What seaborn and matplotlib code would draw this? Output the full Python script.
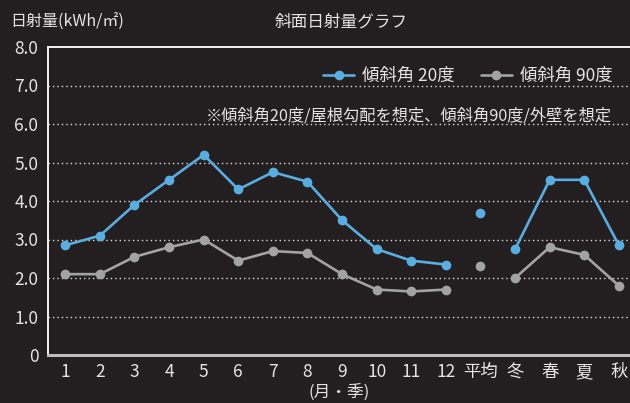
import numpy as np
import pandas as pd
import seaborn as sns
import matplotlib.pyplot as plt
from matplotlib.ticker import FixedLocator

# chart data
categories = ["1", "2", "3", "4", "5", "6", "7", "8", "9", "10", "11", "12",
              "平均", "冬", "春", "夏", "秋"]
segments = [1] * 12 + [2] + [3] * 4
tilt20 = [2.85, 3.1, 3.9, 4.55, 5.2, 4.3, 4.75, 4.5, 3.5, 2.75, 2.45, 2.35,
          3.7, 2.75, 4.55, 4.55, 2.85]
tilt90 = [2.1, 2.1, 2.55, 2.8, 3.0, 2.45, 2.7, 2.65, 2.1, 1.7, 1.65, 1.7,
          2.3, 2.0, 2.8, 2.6, 1.8]
series_names = ["傾斜角 20度", "傾斜角 90度"]
y_ticks = [0, 1, 2, 3, 4, 5, 6, 7, 8]
y_ticklabels = ["0", "1.0", "2.0", "3.0", "4.0", "5.0", "6.0", "7.0", "8.0"]

BG = "#231f20"
TXT = "#e4e4e4"
BLUE = "#5aade0"
GRAY = "#a3a3a4"

pos = np.arange(len(categories))
df = pd.concat([
    pd.DataFrame({"pos": pos, "value": tilt20, "series": series_names[0], "seg": segments}),
    pd.DataFrame({"pos": pos, "value": tilt90, "series": series_names[1], "seg": segments}),
])

sns.set_style("dark")
plt.rcParams["font.family"] = ["Noto Sans CJK JP", "DejaVu Sans"]

fig = plt.figure(figsize=(6.3, 4.03), dpi=100, facecolor=BG)
ax = fig.add_axes([48 / 630, 48 / 403, 583 / 630, 308 / 403])
ax.set_facecolor(BG)

sns.lineplot(data=df, x="pos", y="value", hue="series", units="seg",
             estimator=None, palette={series_names[0]: BLUE, series_names[1]: GRAY},
             hue_order=series_names, marker="o", markersize=7,
             markeredgewidth=0, linewidth=1.9, ax=ax, sort=False)

ax.set_xlim(-0.5, 16.35)
ax.set_ylim(0, 8)
ax.xaxis.set_major_locator(FixedLocator(pos))
ax.set_xticklabels(categories)
ax.set_yticks(y_ticks)
ax.set_yticklabels(y_ticklabels)
ax.tick_params(axis="both", colors=TXT, labelsize=12.5, length=0)
ax.tick_params(axis="x", pad=6)
ax.tick_params(axis="y", pad=7)
ax.set_xlabel("(月・季)", color=TXT, fontsize=12, labelpad=2)
ax.set_ylabel("")

ax.grid(False)
for yv in y_ticks[1:-1]:
    ax.axhline(yv, color="#dcdcdc", linestyle=(0, (1, 2.2)), linewidth=1.0, zorder=0)

ax.spines["left"].set_color("#f2f2f2")
ax.spines["left"].set_linewidth(1.4)
ax.spines["top"].set_color("#f2f2f2")
ax.spines["top"].set_linewidth(1.4)
ax.spines["bottom"].set_color("#bdbdbd")
ax.spines["bottom"].set_linewidth(2.2)
ax.spines["right"].set_visible(False)

ax.legend(loc="upper right", bbox_to_anchor=(0.995, 0.985), ncol=2,
          frameon=False, fontsize=12.5, labelcolor=TXT,
          handlelength=1.8, handletextpad=0.45, columnspacing=1.5)

ax.text(0.967, 0.775, "※傾斜角20度/屋根勾配を想定、傾斜角90度/外壁を想定",
        transform=ax.transAxes, ha="right", va="center", color=TXT, fontsize=11.7)

fig.text(10 / 630, 1 - 22 / 403, "日射量(kWh/㎡)", ha="left", va="center",
         color=TXT, fontsize=11.5)
fig.text(341 / 630, 1 - 22 / 403, "斜面日射量グラフ", ha="center", va="center",
         color=TXT, fontsize=12)

fig.savefig("out.png", dpi=100, facecolor=BG)
